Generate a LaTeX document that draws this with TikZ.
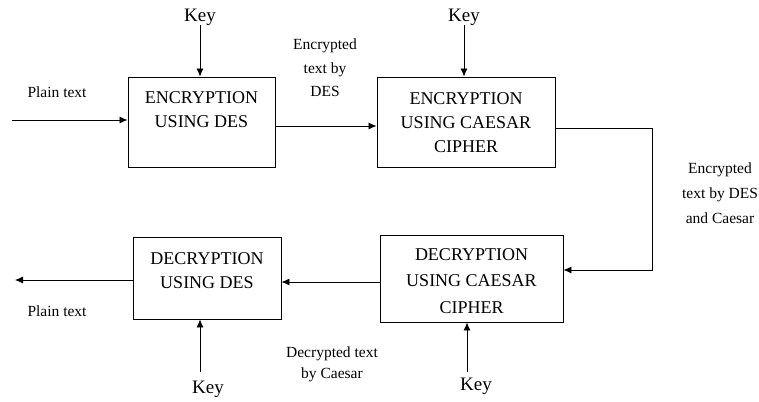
\documentclass[tikz,border=0pt]{standalone}
\usepackage{fontspec}
\setmainfont{Liberation Serif}
\usetikzlibrary{arrows.meta,calc}
\begin{document}
\begin{tikzpicture}[x=1pt,y=-1pt,
  blk/.style={draw,line width=0.9pt,inner sep=0pt},
  boxtext/.style={align=center,inner sep=0pt,font=\fontsize{18}{24}\selectfont},
  lbl/.style={align=center,inner sep=0pt,font=\fontsize{15.5}{23.5}\selectfont},
  keytext/.style={inner sep=0pt,font=\fontsize{19}{22}\selectfont},
  conn/.style={line width=0.8pt,-{Latex[length=8pt,width=7pt]}},
  plain/.style={line width=0.8pt}]
\fill[white] (0,0) rectangle (759,401);
\useasboundingbox (0,0) rectangle (759,401);
% boxes
\node[blk,minimum width=147pt,minimum height=90pt] (b1) at (201.5,122) {};
\node[blk,minimum width=178pt,minimum height=90pt] (b2) at (466,122) {};
\node[blk,minimum width=183pt,minimum height=87pt] (b3) at (471.5,278.5) {};
\node[blk,minimum width=148pt,minimum height=82pt] (b4) at (207,278) {};
% box texts
\node[boxtext] (t1) at (201.5,110) {ENCRYPTION\\USING DES};
\node[boxtext] (t2) at (466,123) {ENCRYPTION\\USING CAESAR\\CIPHER};
\node[boxtext,font=\fontsize{18}{26.5}\selectfont] (t3) at (471.5,281) {DECRYPTION\\USING CAESAR\\CIPHER};
\node[boxtext] (t4) at (207,271) {DECRYPTION\\USING DES};
% labels
\node[lbl] (l1) at (57,92) {Plain text};
\node[lbl] (l2) at (325,68) {Encrypted\\text by\\DES};
\node[lbl,font=\fontsize{15.5}{25}\selectfont] (l3) at (720,193) {Encrypted\\text by DES\\and Caesar};
\node[lbl] (l4) at (57,311) {Plain text};
\node[lbl,font=\fontsize{15.5}{21}\selectfont] (l5) at (332,364) {Decrypted text\\by Caesar};
% keys
\node[keytext] (k1) at (200,17) {Key};
\node[keytext] (k2) at (464,17) {Key};
\node[keytext] (k3) at (208,389) {Key};
\node[keytext] (k4) at (476,386) {Key};
% free ends
\coordinate (in) at (12,120);
\coordinate (out) at (15,280);
\coordinate (c1) at (652,128);
\coordinate (c2) at (652,270);
\coordinate (k1s) at (200,25);
\coordinate (k2s) at (464,25);
\coordinate (k3s) at (200,372);
\coordinate (k4s) at (467,372);
% connectors
\draw[conn] (in) -- (in -| b1.west);
\draw[conn] (k1s) -- (k1s |- b1.north);
\draw[conn] ($(b1.east)+(0,4)$) -- ($(b2.west)+(0,4)$);
\draw[conn] (k2s) -- (k2s |- b2.north);
\draw[conn] (c1 -| b2.east) -- (c1) -- (c2) -- (c2 -| b3.east);
\draw[conn] ($(b3.west)+(0,3.5)$) -- ($(b4.east)+(0,4)$);
\draw[conn] (out -| b4.west) -- (out);
\draw[conn] (k3s) -- (k3s |- b4.south);
\draw[conn] (k4s) -- (k4s |- b3.south);
\end{tikzpicture}
\end{document}
